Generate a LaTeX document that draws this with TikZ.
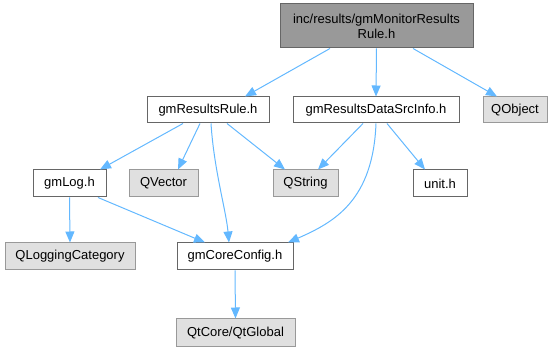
\documentclass[tikz,border=0pt]{standalone}
\usepackage{fontspec}
\setmainfont{Liberation Sans}
\usetikzlibrary{arrows.meta}
\definecolor{edgec}{HTML}{63B8FF}
\definecolor{rootfill}{HTML}{999999}
\definecolor{darkb}{HTML}{666666}
\definecolor{extfill}{HTML}{E0E0E0}
\definecolor{extb}{HTML}{999999}
\tikzset{
  box/.style={rectangle, inner sep=0pt, line width=1pt, font=\fontsize{13}{15}\selectfont, align=center},
  filebox/.style={box, draw=darkb, fill=white},
  rootbox/.style={box, draw=darkb, fill=rootfill},
  extbox/.style={box, draw=extb, fill=extfill},
  dep/.style={draw=edgec, line width=1pt, -{Triangle[length=11pt,width=9pt]}}
}
\begin{document}
\begin{tikzpicture}[x=1pt,y=-1pt]
\useasboundingbox (0,0) rectangle (558,352);
\node[rootbox, minimum width=193pt, minimum height=44pt] (root) at (376.5,26) {inc/results/gmMonitorResults\\Rule.h};
\node[filebox, minimum width=122pt, minimum height=26pt] (rule) at (208,110) {gmResultsRule.h};
\node[filebox, minimum width=166pt, minimum height=26pt] (src) at (376,110) {gmResultsDataSrcInfo.h};
\node[extbox, minimum width=64pt, minimum height=26pt] (qobject) at (515,110) {QObject};
\node[filebox, minimum width=73pt, minimum height=27pt] (log) at (69.5,183.5) {gmLog.h};
\node[extbox, minimum width=69pt, minimum height=27pt] (qvector) at (163.5,183.5) {QVector};
\node[extbox, minimum width=65pt, minimum height=27pt] (qstring) at (305.5,183.5) {QString};
\node[filebox, minimum width=54pt, minimum height=27pt] (unit) at (440,183.5) {unit.h};
\node[extbox, minimum width=130pt, minimum height=27pt] (qlog) at (70,256.5) {QLoggingCategory};
\node[filebox, minimum width=116pt, minimum height=27pt] (core) at (235,256.5) {gmCoreConfig.h};
\node[extbox, minimum width=119pt, minimum height=28pt] (qtglobal) at (235.5,333) {QtCore/QtGlobal};

\draw[dep] ([xshift=-46.5pt]root.south) -- ([xshift=37pt]rule.north);
\draw[dep] (root.south) -- (src.north);
\draw[dep] ([xshift=36.5pt]root.south) -- ([xshift=-18pt]qobject.north);

\draw[dep] ([xshift=-25pt]rule.south) -- ([xshift=30.5pt]log.north);
\draw[dep] ([xshift=-8pt]rule.south) -- ([xshift=14.5pt]qvector.north);
\draw[dep] ([xshift=19pt]rule.south) -- ([xshift=-20.5pt]qstring.north);
\draw[dep] ([xshift=3pt]rule.south) .. controls (214,170) and (226,210) .. ([xshift=-6pt]core.north);

\draw[dep] ([xshift=-13pt]src.south) -- ([xshift=12.5pt]qstring.north);
\draw[dep] ([xshift=11pt]src.south) -- ([xshift=-15pt]unit.north);
\draw[dep] (src.south) .. controls (373,200) and (335,222) .. ([xshift=53pt]core.north);

\draw[dep] (log.south) -- (qlog.north);
\draw[dep] ([xshift=28.5pt]log.south) -- ([xshift=-30pt]core.north);

\draw[dep] (core.south) -- (qtglobal.north);
\end{tikzpicture}
\end{document}
